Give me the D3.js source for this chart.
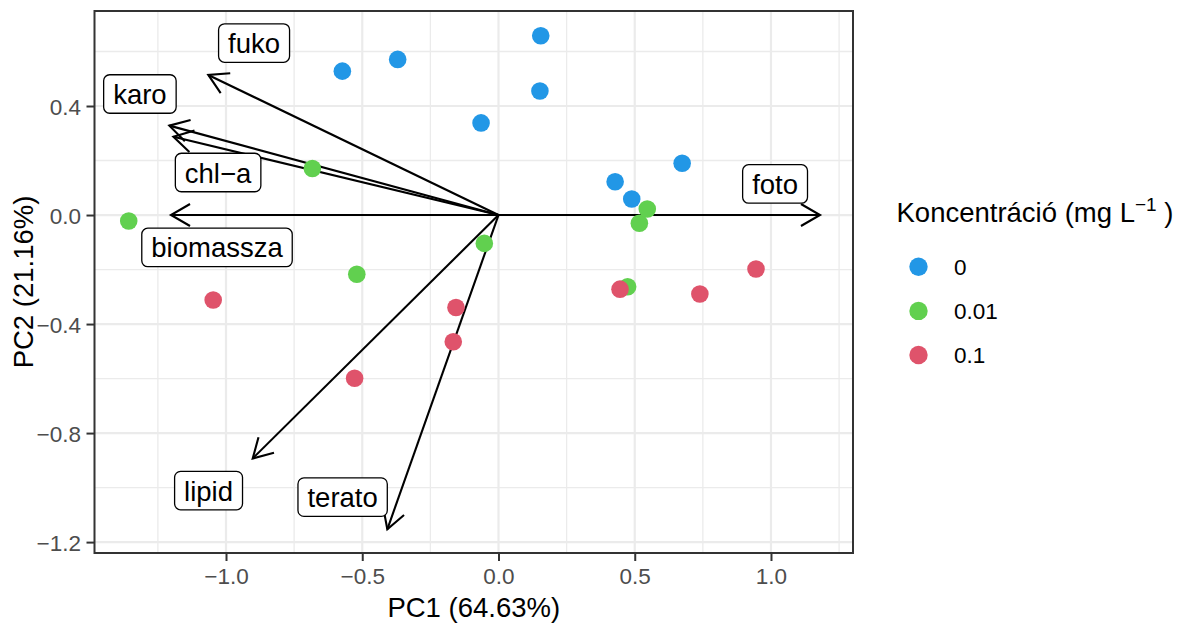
<!DOCTYPE html>
<html>
<head>
<meta charset="utf-8">
<script src="https://cdn.jsdelivr.net/npm/d3@7"></script>
<style>
  html, body { margin: 0; padding: 0; background: #ffffff; }
  svg { display: block; font-family: "Liberation Sans", Arial, Helvetica, sans-serif; }
</style>
</head>
<body>
<svg id="chart" width="1186" height="623"></svg>
<script>
// PCA scores, grouped by concentration level
const groups = ["0", "0.01", "0.1"];
const groupColors = ["#2297E6", "#61D04F", "#DF536B"];

const scores0 = [
  [-0.573, 0.528], [-0.370, 0.571], [0.155, 0.658], [0.152, 0.455],
  [-0.064, 0.338], [0.428, 0.122], [0.489, 0.059], [0.674, 0.190]
];
const scores001 = [
  [-0.683, 0.171], [-1.357, -0.022], [-0.520, -0.217], [-0.052, -0.104],
  [0.517, -0.030], [0.546, 0.022], [0.474, -0.263]
];
const scores01 = [
  [-1.047, -0.312], [-0.156, -0.339], [-0.166, -0.465], [-0.528, -0.599],
  [0.446, -0.272], [0.739, -0.290], [0.945, -0.198]
];

// Variable loadings (arrow tips) and their label anchors
const variables = ["fuko", "karo", "chl\u2212a", "biomassza", "foto", "lipid", "terato"];
const loadingX = [-1.065, -1.208, -1.193, -1.202, 1.180, -0.902, -0.408];
const loadingY = [0.514, 0.328, 0.287, 0.000, 0.000, -0.893, -1.153];
const labelX = [-0.897, -1.316, -1.029, -1.033, 1.015, -1.064, -0.572];
const labelY = [0.631, 0.444, 0.156, -0.119, 0.114, -1.011, -1.035];

const xMajor = [-1.0, -0.5, 0.0, 0.5, 1.0];
const xMinor = [-1.25, -0.75, -0.25, 0.25, 0.75, 1.25];
const yMajor = [0.4, 0.0, -0.4, -0.8, -1.2];
const yMinor = [0.6, 0.2, -0.2, -0.6, -1.0];

const xTitle = "PC1 (64.63%)";
const yTitle = "PC2 (21.16%)";

// ---- layout ----
const panel = { left: 94.5, right: 853, top: 11, bottom: 553 };
const svg = d3.select("#chart");

const x = d3.scaleLinear().domain([-1.4826, 1.301]).range([panel.left, panel.right]);
const y = d3.scaleLinear().domain([0.7486, -1.240]).range([panel.top, panel.bottom]);

const fmt = d => d === 0 ? "0.0" : d3.format(".1f")(d).replace("-", "\u2212");

// panel background and grid
svg.append("rect")
  .attr("x", panel.left).attr("y", panel.top)
  .attr("width", panel.right - panel.left).attr("height", panel.bottom - panel.top)
  .attr("fill", "#ffffff");

const grid = svg.append("g");
grid.selectAll("line.xminor").data(xMinor).join("line")
  .attr("x1", d => x(d)).attr("x2", d => x(d))
  .attr("y1", panel.top).attr("y2", panel.bottom)
  .attr("stroke", "#EBEBEB").attr("stroke-width", 1.3);
grid.selectAll("line.yminor").data(yMinor).join("line")
  .attr("y1", d => y(d)).attr("y2", d => y(d))
  .attr("x1", panel.left).attr("x2", panel.right)
  .attr("stroke", "#EBEBEB").attr("stroke-width", 1.3);
grid.selectAll("line.xmajor").data(xMajor).join("line")
  .attr("x1", d => x(d)).attr("x2", d => x(d))
  .attr("y1", panel.top).attr("y2", panel.bottom)
  .attr("stroke", "#EBEBEB").attr("stroke-width", 2.2);
grid.selectAll("line.ymajor").data(yMajor).join("line")
  .attr("y1", d => y(d)).attr("y2", d => y(d))
  .attr("x1", panel.left).attr("x2", panel.right)
  .attr("stroke", "#EBEBEB").attr("stroke-width", 2.2);

// axes (ticks + labels)
const xAxis = d3.axisBottom(x).tickValues(xMajor).tickSize(8).tickPadding(5).tickFormat(fmt);
const yAxis = d3.axisLeft(y).tickValues(yMajor).tickSize(8).tickPadding(5).tickFormat(fmt);

const gx = svg.append("g").attr("transform", `translate(0,${panel.bottom})`).call(xAxis);
const gy = svg.append("g").attr("transform", `translate(${panel.left},0)`).call(yAxis);
[gx, gy].forEach(g => {
  g.select(".domain").remove();
  g.selectAll(".tick line").attr("stroke", "#333333").attr("stroke-width", 2);
  g.selectAll(".tick text")
    .attr("fill", "#4D4D4D")
    .style("font-size", "22.5px")
    .style("font-family", "'Liberation Sans', Arial, sans-serif");
});
gx.selectAll(".tick text").attr("dy", null).attr("y", 30.5);
gy.selectAll(".tick text").attr("dy", null).attr("y", 8).attr("x", -13.5);

// loading arrows
const arrowLen = 22;
const arrowAng = Math.PI / 6;
const arrows = svg.append("g")
  .attr("stroke", "#000000").attr("stroke-width", 2.1)
  .attr("fill", "none").attr("stroke-linecap", "butt").attr("stroke-linejoin", "miter");
variables.forEach((v, i) => {
  const x0 = x(0), y0 = y(0);
  const x1 = x(loadingX[i]), y1 = y(loadingY[i]);
  const a = Math.atan2(y1 - y0, x1 - x0);
  arrows.append("line").attr("x1", x0).attr("y1", y0).attr("x2", x1).attr("y2", y1);
  const p1 = [x1 - arrowLen * Math.cos(a - arrowAng), y1 - arrowLen * Math.sin(a - arrowAng)];
  const p2 = [x1 - arrowLen * Math.cos(a + arrowAng), y1 - arrowLen * Math.sin(a + arrowAng)];
  arrows.append("path").attr("d", `M${p1[0]},${p1[1]}L${x1},${y1}L${p2[0]},${p2[1]}`);
});

// score points
const allScores = [scores0, scores001, scores01];
const pts = svg.append("g");
allScores.forEach((s, gi) => {
  pts.selectAll(null).data(s).join("circle")
    .attr("cx", d => x(d[0])).attr("cy", d => y(d[1]))
    .attr("r", 8.8).attr("fill", groupColors[gi]);
});

// variable labels in rounded boxes
const labels = svg.append("g");
variables.forEach((v, i) => {
  const cx = x(labelX[i]), cy = y(labelY[i]);
  const g = labels.append("g");
  const rect = g.append("rect");
  const t = g.append("text")
    .attr("x", cx).attr("y", cy + 10)
    .attr("text-anchor", "middle")
    .style("font-size", "27.5px").attr("fill", "#000000")
    .text(v);
  const w = t.node().getComputedTextLength() + 19;
  const h = 38.5;
  rect.attr("x", cx - w / 2).attr("y", cy - h / 2)
    .attr("width", w).attr("height", h)
    .attr("rx", 6).attr("ry", 6)
    .attr("fill", "#ffffff").attr("stroke", "#000000").attr("stroke-width", 1.3);
});

// panel border
svg.append("rect")
  .attr("x", panel.left).attr("y", panel.top)
  .attr("width", panel.right - panel.left).attr("height", panel.bottom - panel.top)
  .attr("fill", "none").attr("stroke", "#333333").attr("stroke-width", 2);

// axis titles
svg.append("text")
  .attr("x", (panel.left + panel.right) / 2).attr("y", 617)
  .attr("text-anchor", "middle").style("font-size", "27.5px").attr("fill", "#000000")
  .text(xTitle);
svg.append("text")
  .attr("transform", `translate(33,${(panel.top + panel.bottom) / 2}) rotate(-90)`)
  .attr("text-anchor", "middle").style("font-size", "27.5px").attr("fill", "#000000")
  .text(yTitle);

// legend
const legend = svg.append("g");
const title = legend.append("text")
  .attr("x", 896.5).attr("y", 221.5)
  .style("font-size", "27.5px").attr("fill", "#000000");
title.append("tspan").text("Koncentráció (mg L");
title.append("tspan").attr("dy", -11).style("font-size", "19px").text("\u22121");
title.append("tspan").attr("dy", 11).text(" )");

const legendY = [266.7, 310.9, 355];
groups.forEach((gname, i) => {
  legend.append("circle").attr("cx", 918.5).attr("cy", legendY[i]).attr("r", 9.2).attr("fill", groupColors[i]);
  legend.append("text").attr("x", 954).attr("y", legendY[i] + 8)
    .style("font-size", "22.5px").attr("fill", "#000000").text(gname);
});
</script>
</body>
</html>
